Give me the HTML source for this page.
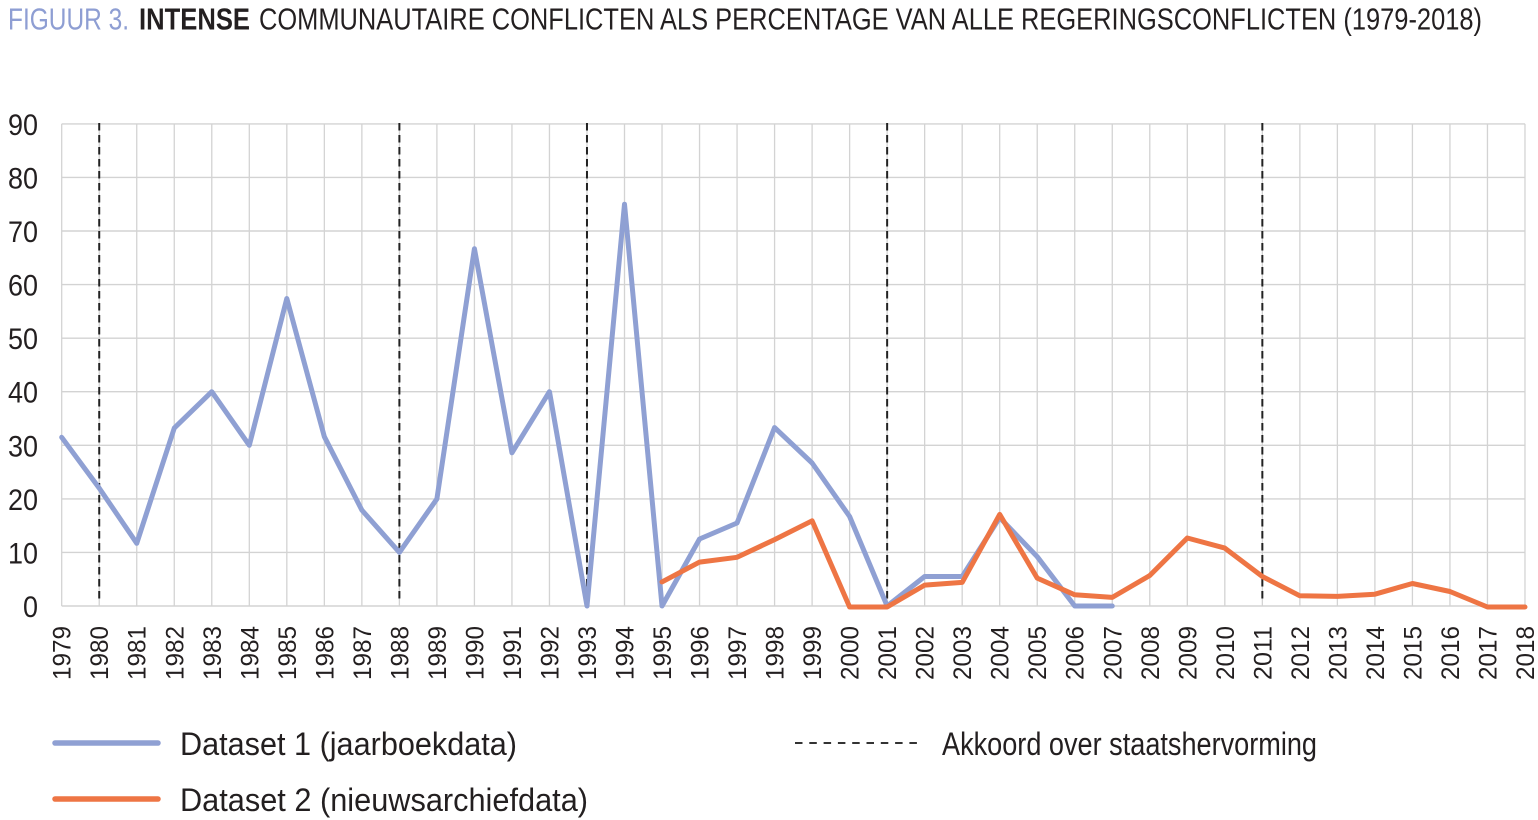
<!DOCTYPE html>
<html>
<head>
<meta charset="utf-8">
<style>
  html, body { margin: 0; padding: 0; background: #ffffff; }
  body { width: 1538px; height: 820px; overflow: hidden; }
  svg { display: block; }
  text { font-family: "Liberation Sans", "DejaVu Sans", sans-serif; fill: #231f20; }
</style>
</head>
<body>
<svg width="1538" height="820" viewBox="0 0 1538 820" xmlns="http://www.w3.org/2000/svg">
  <!-- Title -->
  <text x="8" y="29.5" font-size="31" textLength="121" lengthAdjust="spacingAndGlyphs" style="fill:#8e9ed3">FIGUUR 3.</text>
  <text x="139" y="29.5" font-size="31" font-weight="bold" textLength="111" lengthAdjust="spacingAndGlyphs">INTENSE</text>
  <text x="259" y="29.5" font-size="31" textLength="1223" lengthAdjust="spacingAndGlyphs">COMMUNAUTAIRE CONFLICTEN ALS PERCENTAGE VAN ALLE REGERINGSCONFLICTEN (1979-2018)</text>

  <!-- Horizontal gridlines -->
  <g stroke="#d3d3d3" stroke-width="1.4">
    <line x1="61.7" y1="606" x2="1525" y2="606"/>
    <line x1="61.7" y1="552.4" x2="1525" y2="552.4"/>
    <line x1="61.7" y1="498.9" x2="1525" y2="498.9"/>
    <line x1="61.7" y1="445.3" x2="1525" y2="445.3"/>
    <line x1="61.7" y1="391.7" x2="1525" y2="391.7"/>
    <line x1="61.7" y1="338.2" x2="1525" y2="338.2"/>
    <line x1="61.7" y1="284.6" x2="1525" y2="284.6"/>
    <line x1="61.7" y1="231" x2="1525" y2="231"/>
    <line x1="61.7" y1="177.4" x2="1525" y2="177.4"/>
    <line x1="61.7" y1="123.9" x2="1525" y2="123.9"/>
  </g>
  <!-- Vertical gridlines -->
  <g stroke="#d3d3d3" stroke-width="1.3">
    <line x1="61.7" y1="123.9" x2="61.7" y2="606"/>
    <line x1="99.22" y1="123.9" x2="99.22" y2="606"/>
    <line x1="136.74" y1="123.9" x2="136.74" y2="606"/>
    <line x1="174.26" y1="123.9" x2="174.26" y2="606"/>
    <line x1="211.78" y1="123.9" x2="211.78" y2="606"/>
    <line x1="249.30" y1="123.9" x2="249.30" y2="606"/>
    <line x1="286.82" y1="123.9" x2="286.82" y2="606"/>
    <line x1="324.34" y1="123.9" x2="324.34" y2="606"/>
    <line x1="361.86" y1="123.9" x2="361.86" y2="606"/>
    <line x1="399.38" y1="123.9" x2="399.38" y2="606"/>
    <line x1="436.90" y1="123.9" x2="436.90" y2="606"/>
    <line x1="474.42" y1="123.9" x2="474.42" y2="606"/>
    <line x1="511.94" y1="123.9" x2="511.94" y2="606"/>
    <line x1="549.46" y1="123.9" x2="549.46" y2="606"/>
    <line x1="586.98" y1="123.9" x2="586.98" y2="606"/>
    <line x1="624.50" y1="123.9" x2="624.50" y2="606"/>
    <line x1="662.02" y1="123.9" x2="662.02" y2="606"/>
    <line x1="699.54" y1="123.9" x2="699.54" y2="606"/>
    <line x1="737.06" y1="123.9" x2="737.06" y2="606"/>
    <line x1="774.58" y1="123.9" x2="774.58" y2="606"/>
    <line x1="812.10" y1="123.9" x2="812.10" y2="606"/>
    <line x1="849.62" y1="123.9" x2="849.62" y2="606"/>
    <line x1="887.14" y1="123.9" x2="887.14" y2="606"/>
    <line x1="924.66" y1="123.9" x2="924.66" y2="606"/>
    <line x1="962.18" y1="123.9" x2="962.18" y2="606"/>
    <line x1="999.70" y1="123.9" x2="999.70" y2="606"/>
    <line x1="1037.22" y1="123.9" x2="1037.22" y2="606"/>
    <line x1="1074.74" y1="123.9" x2="1074.74" y2="606"/>
    <line x1="1112.26" y1="123.9" x2="1112.26" y2="606"/>
    <line x1="1149.78" y1="123.9" x2="1149.78" y2="606"/>
    <line x1="1187.30" y1="123.9" x2="1187.30" y2="606"/>
    <line x1="1224.82" y1="123.9" x2="1224.82" y2="606"/>
    <line x1="1262.34" y1="123.9" x2="1262.34" y2="606"/>
    <line x1="1299.86" y1="123.9" x2="1299.86" y2="606"/>
    <line x1="1337.38" y1="123.9" x2="1337.38" y2="606"/>
    <line x1="1374.90" y1="123.9" x2="1374.90" y2="606"/>
    <line x1="1412.42" y1="123.9" x2="1412.42" y2="606"/>
    <line x1="1449.94" y1="123.9" x2="1449.94" y2="606"/>
    <line x1="1487.46" y1="123.9" x2="1487.46" y2="606"/>
    <line x1="1524.98" y1="123.9" x2="1524.98" y2="606"/>
  </g>

  <!-- Y axis labels -->
  <g font-size="30" text-anchor="end">
    <text x="38" y="617" textLength="15" lengthAdjust="spacingAndGlyphs">0</text>
    <text x="38" y="563.4" textLength="30" lengthAdjust="spacingAndGlyphs">10</text>
    <text x="38" y="509.9" textLength="30" lengthAdjust="spacingAndGlyphs">20</text>
    <text x="38" y="456.3" textLength="30" lengthAdjust="spacingAndGlyphs">30</text>
    <text x="38" y="402.7" textLength="30" lengthAdjust="spacingAndGlyphs">40</text>
    <text x="38" y="349.2" textLength="30" lengthAdjust="spacingAndGlyphs">50</text>
    <text x="38" y="295.6" textLength="30" lengthAdjust="spacingAndGlyphs">60</text>
    <text x="38" y="242" textLength="30" lengthAdjust="spacingAndGlyphs">70</text>
    <text x="38" y="188.4" textLength="30" lengthAdjust="spacingAndGlyphs">80</text>
    <text x="38" y="134.9" textLength="30" lengthAdjust="spacingAndGlyphs">90</text>
  </g>

  <!-- X axis labels (rotated) -->
  <g font-size="25">
    <text transform="translate(70.7,680) rotate(-90)" textLength="54" lengthAdjust="spacingAndGlyphs">1979</text>
    <text transform="translate(108.22,680) rotate(-90)" textLength="54" lengthAdjust="spacingAndGlyphs">1980</text>
    <text transform="translate(145.74,680) rotate(-90)" textLength="54" lengthAdjust="spacingAndGlyphs">1981</text>
    <text transform="translate(183.26,680) rotate(-90)" textLength="54" lengthAdjust="spacingAndGlyphs">1982</text>
    <text transform="translate(220.78,680) rotate(-90)" textLength="54" lengthAdjust="spacingAndGlyphs">1983</text>
    <text transform="translate(258.30,680) rotate(-90)" textLength="54" lengthAdjust="spacingAndGlyphs">1984</text>
    <text transform="translate(295.82,680) rotate(-90)" textLength="54" lengthAdjust="spacingAndGlyphs">1985</text>
    <text transform="translate(333.34,680) rotate(-90)" textLength="54" lengthAdjust="spacingAndGlyphs">1986</text>
    <text transform="translate(370.86,680) rotate(-90)" textLength="54" lengthAdjust="spacingAndGlyphs">1987</text>
    <text transform="translate(408.38,680) rotate(-90)" textLength="54" lengthAdjust="spacingAndGlyphs">1988</text>
    <text transform="translate(445.90,680) rotate(-90)" textLength="54" lengthAdjust="spacingAndGlyphs">1989</text>
    <text transform="translate(483.42,680) rotate(-90)" textLength="54" lengthAdjust="spacingAndGlyphs">1990</text>
    <text transform="translate(520.94,680) rotate(-90)" textLength="54" lengthAdjust="spacingAndGlyphs">1991</text>
    <text transform="translate(558.46,680) rotate(-90)" textLength="54" lengthAdjust="spacingAndGlyphs">1992</text>
    <text transform="translate(595.98,680) rotate(-90)" textLength="54" lengthAdjust="spacingAndGlyphs">1993</text>
    <text transform="translate(633.50,680) rotate(-90)" textLength="54" lengthAdjust="spacingAndGlyphs">1994</text>
    <text transform="translate(671.02,680) rotate(-90)" textLength="54" lengthAdjust="spacingAndGlyphs">1995</text>
    <text transform="translate(708.54,680) rotate(-90)" textLength="54" lengthAdjust="spacingAndGlyphs">1996</text>
    <text transform="translate(746.06,680) rotate(-90)" textLength="54" lengthAdjust="spacingAndGlyphs">1997</text>
    <text transform="translate(783.58,680) rotate(-90)" textLength="54" lengthAdjust="spacingAndGlyphs">1998</text>
    <text transform="translate(821.10,680) rotate(-90)" textLength="54" lengthAdjust="spacingAndGlyphs">1999</text>
    <text transform="translate(858.62,680) rotate(-90)" textLength="54" lengthAdjust="spacingAndGlyphs">2000</text>
    <text transform="translate(896.14,680) rotate(-90)" textLength="54" lengthAdjust="spacingAndGlyphs">2001</text>
    <text transform="translate(933.66,680) rotate(-90)" textLength="54" lengthAdjust="spacingAndGlyphs">2002</text>
    <text transform="translate(971.18,680) rotate(-90)" textLength="54" lengthAdjust="spacingAndGlyphs">2003</text>
    <text transform="translate(1008.70,680) rotate(-90)" textLength="54" lengthAdjust="spacingAndGlyphs">2004</text>
    <text transform="translate(1046.22,680) rotate(-90)" textLength="54" lengthAdjust="spacingAndGlyphs">2005</text>
    <text transform="translate(1083.74,680) rotate(-90)" textLength="54" lengthAdjust="spacingAndGlyphs">2006</text>
    <text transform="translate(1121.26,680) rotate(-90)" textLength="54" lengthAdjust="spacingAndGlyphs">2007</text>
    <text transform="translate(1158.78,680) rotate(-90)" textLength="54" lengthAdjust="spacingAndGlyphs">2008</text>
    <text transform="translate(1196.30,680) rotate(-90)" textLength="54" lengthAdjust="spacingAndGlyphs">2009</text>
    <text transform="translate(1233.82,680) rotate(-90)" textLength="54" lengthAdjust="spacingAndGlyphs">2010</text>
    <text transform="translate(1271.34,680) rotate(-90)" textLength="54" lengthAdjust="spacingAndGlyphs">2011</text>
    <text transform="translate(1308.86,680) rotate(-90)" textLength="54" lengthAdjust="spacingAndGlyphs">2012</text>
    <text transform="translate(1346.38,680) rotate(-90)" textLength="54" lengthAdjust="spacingAndGlyphs">2013</text>
    <text transform="translate(1383.90,680) rotate(-90)" textLength="54" lengthAdjust="spacingAndGlyphs">2014</text>
    <text transform="translate(1421.42,680) rotate(-90)" textLength="54" lengthAdjust="spacingAndGlyphs">2015</text>
    <text transform="translate(1458.94,680) rotate(-90)" textLength="54" lengthAdjust="spacingAndGlyphs">2016</text>
    <text transform="translate(1496.46,680) rotate(-90)" textLength="54" lengthAdjust="spacingAndGlyphs">2017</text>
    <text transform="translate(1533.98,680) rotate(-90)" textLength="54" lengthAdjust="spacingAndGlyphs">2018</text>
  </g>

  <!-- Dashed reform lines -->
  <g stroke="#222222" stroke-width="2" stroke-dasharray="7.5,4.5">
    <line x1="99.22" y1="123" x2="99.22" y2="602"/>
    <line x1="399.38" y1="123" x2="399.38" y2="602"/>
    <line x1="586.98" y1="123" x2="586.98" y2="602"/>
    <line x1="887.14" y1="123" x2="887.14" y2="602"/>
    <line x1="1262.34" y1="123" x2="1262.34" y2="602"/>
  </g>

  <!-- Dataset 1 (blue) -->
  <polyline fill="none" stroke="#8fa0d3" stroke-width="5" stroke-linejoin="round" stroke-linecap="round"
    points="61.7,437.3 99.22,488.1 136.74,543.3 174.26,428.1 211.78,391.7 249.30,445.3 286.82,298.5 324.34,436.7 361.86,510.1 399.38,552.4 436.90,498.9 474.42,248.7 511.94,452.8 549.46,391.7 586.98,606 624.50,204.2 662.02,606 699.54,539 737.06,523 774.58,427.6 812.10,463 849.62,516.5 887.14,606 924.66,576.5 962.18,576.5 999.70,517.6 1037.22,556.7 1074.74,606 1112.26,606"/>

  <!-- Dataset 2 (orange) -->
  <polyline fill="none" stroke="#ee7544" stroke-width="5" stroke-linejoin="round" stroke-linecap="round"
    points="662.02,581.9 699.54,562.1 737.06,557.3 774.58,539.6 812.10,520.8 849.62,607 887.14,607 924.66,585.1 962.18,582.4 999.70,514.4 1037.22,578.1 1074.74,594.8 1112.26,597.4 1149.78,575.5 1187.30,538 1224.82,548.1 1262.34,576.5 1299.86,595.8 1337.38,596.4 1374.90,594.2 1412.42,583.5 1449.94,591.5 1487.46,607 1524.98,607"/>

  <!-- Legend -->
  <line x1="55" y1="743" x2="158" y2="743" stroke="#8fa0d3" stroke-width="5.5" stroke-linecap="round"/>
  <text x="180" y="755" font-size="32" textLength="337" lengthAdjust="spacingAndGlyphs">Dataset 1 (jaarboekdata)</text>
  <line x1="55" y1="799" x2="158" y2="799" stroke="#ee7544" stroke-width="5.5" stroke-linecap="round"/>
  <text x="180" y="811" font-size="32" textLength="408" lengthAdjust="spacingAndGlyphs">Dataset 2 (nieuwsarchiefdata)</text>

  <line x1="795" y1="743" x2="917" y2="743" stroke="#333333" stroke-width="2" stroke-dasharray="7.5,6.8"/>
  <text x="942" y="755" font-size="32" textLength="375" lengthAdjust="spacingAndGlyphs">Akkoord over staatshervorming</text>
</svg>
</body>
</html>
